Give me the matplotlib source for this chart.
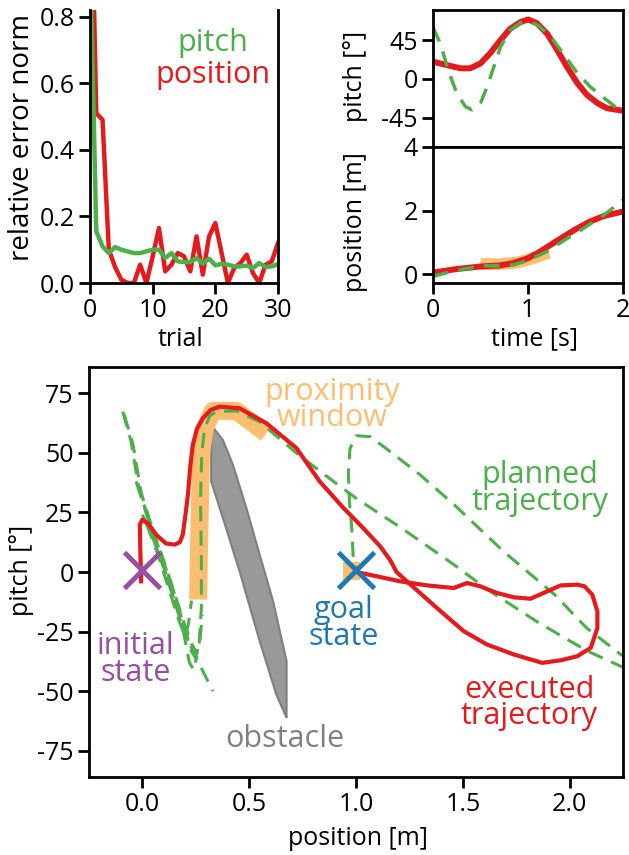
import matplotlib
matplotlib.use("Agg")
import matplotlib.pyplot as plt

plt.rcParams["font.family"] = ["Open Sans", "DejaVu Sans"]
plt.rcParams["axes.unicode_minus"] = False

RED = "#e41a1c"
GREEN = "#4daf4a"
ORANGE = "#fdbf6f"
PURPLE = "#984ea3"
BLUE = "#1f78b4"

# --- top left: relative error norm per trial
trials = list(range(31))
err_position = [1.40, 0.51, 0.49, 0.10, 0.048, 0.01, 0.0, 0.0, 0.055, 0.0, 0.08,
                0.165, 0.035, 0.055, 0.09, 0.08, 0.035, 0.14, 0.025, 0.14, 0.18,
                0.09, 0.0, 0.045, 0.06, 0.085, 0.03, 0.0, 0.055, 0.065, 0.12]
err_pitch = [1.0, 0.155, 0.11, 0.09, 0.108, 0.10, 0.095, 0.09, 0.09, 0.095, 0.10,
             0.10, 0.075, 0.09, 0.065, 0.063, 0.063, 0.075, 0.058, 0.073, 0.053,
             0.058, 0.055, 0.05, 0.05, 0.052, 0.045, 0.06, 0.048, 0.05, 0.057]

# --- top right: pitch and position over time
t_exec = [0, 0.147, 0.29, 0.39, 0.5, 0.6, 0.71, 0.81, 0.92, 1.0, 1.09, 1.2, 1.3,
          1.41, 1.52, 1.62, 1.73, 1.83, 2.0]
pitch_exec = [20, 16, 12.3, 12.3, 18, 29.6, 45, 58, 66, 69, 65, 52.7, 35, 14, -5,
              -18.5, -28, -34, -37]
t_plan = [0, 0.077, 0.165, 0.25, 0.34, 0.41, 0.5, 0.57, 0.64, 0.71, 0.81, 0.92,
          1.0, 1.11, 1.24, 1.38, 1.52, 1.66, 1.8, 2.0]
pitch_plan = [60, 41, 8.5, -16.5, -32, -36, -28, -9, 14, 37, 56.5, 65, 67, 62, 49,
              28, 6.5, -9.6, -22, -39.6]

t_pos_exec = [0, 0.25, 0.5, 0.7, 0.85, 1.0, 1.1, 1.2, 1.35, 1.5, 1.65, 1.8, 2.0]
pos_exec = [0.05, 0.16, 0.24, 0.27, 0.35, 0.5, 0.66, 0.85, 1.13, 1.41, 1.65, 1.83, 1.97]
t_pos_plan = [0, 0.25, 0.5, 0.7, 0.85, 1.0, 1.2, 1.4, 1.6, 1.8, 2.0]
pos_plan = [-0.07, 0.12, 0.26, 0.26, 0.29, 0.43, 0.71, 1.1, 1.47, 1.86, 2.33]
t_window = [0.5, 0.7, 0.9, 1.05, 1.22]
pos_window = [0.32, 0.31, 0.37, 0.5, 0.67]

# --- bottom: pitch vs position
exec_x = [-0.006, -0.01, -0.012, 0.0, 0.03, 0.064, 0.11, 0.15, 0.175, 0.189, 0.203,
          0.213, 0.225, 0.236, 0.255, 0.283, 0.32, 0.361, 0.455, 0.581, 0.721, 0.83,
          0.94, 1.034, 1.113, 1.16, 1.19, 1.238, 1.379, 1.504, 1.613, 1.739, 1.872,
          1.96, 2.036, 2.099, 2.13, 2.13, 2.106, 2.07, 2.036, 1.958, 1.895, 1.817,
          1.739, 1.66, 1.582, 1.52, 1.457, 1.332, 1.207, 1.097, 1.003]
exec_y = [-3.9, 10, 19.9, 22, 20, 15.7, 12, 11.5, 12.5, 15.7, 25, 32.4, 45, 53.4, 60,
          64.5, 68, 69.4, 68.7, 62.4, 52, 38, 27, 18.4, 10.8, 5, 0, -3.9, -15.1,
          -24.8, -30.4, -34.6, -38.1, -37, -35.3, -31.8, -23.5, -16.5, -9.5, -6,
          -5.3, -5.6, -8.1, -11.2, -10.6, -8.8, -6.0, -4.6, -6.7, -5.6, -3.9, -1.8, 0]

plan_x = [-0.085, -0.045, -0.005, 0.058, 0.15, 0.205, 0.228, 0.248, 0.266, 0.276,
          0.276, 0.272, 0.278, 0.291, 0.315, 0.346, 0.44, 0.549, 0.72, 0.88, 1.0,
          1.22, 1.46, 1.61, 1.85, 2.08, 2.25, 2.4, 2.45, 2.4, 2.24, 2.08, 1.93, 1.69,
          1.46, 1.3, 1.14, 1.066, 1.003, 0.972, 0.964, 0.969, 0.98, 0.987, 1.0]
plan_y = [66, 54, 33, 15, -9, -26, -33, -36, -30, -15, 5, 30, 50, 60, 65.5, 67.3,
          67.6, 63, 50, 39, 31, 18, 3, -7, -21, -33, -40, -48, -47, -43, -34.6,
          -23.5, -9.5, 8.7, 28.2, 40.8, 51.9, 56.8, 57.2, 51.9, 42, 29.6, 18.4, 6, 0.5]
plan2_x = [-0.092, -0.053, -0.014, 0.048, 0.14, 0.235, 0.33]
plan2_y = [67.3, 54.8, 33.8, 15.8, -9.4, -33, -50]
plan3_x = [-0.03, 0.02, 0.08, 0.14, 0.19, 0.23, 0.255, 0.27, 0.28]
plan3_y = [38, 25, 10, -6, -20, -30, -34, -28, -18]
plan4_x = [0.0, 0.05, 0.1, 0.15, 0.19, 0.22, 0.24, 0.255]
plan4_y = [24, 14, 2, -12, -24, -38, -41, -35]
plan5_x = [0.02, 0.07, 0.12, 0.17, 0.2, 0.215, 0.23]
plan5_y = [20, 8, -6, -20, -27, -22, -12]

window_x = [0.261, 0.265, 0.27, 0.275, 0.291, 0.33, 0.44, 0.58]
window_y = [-11.5, 10, 32, 50, 60.3, 67.6, 67.6, 58.2]
goal_window_x = [0.94, 1.02]
goal_window_y = [0.3, 0.3]

obstacle_x = [0.322, 0.377, 0.424, 0.487, 0.549, 0.612, 0.675, 0.675, 0.627, 0.549,
              0.455, 0.377, 0.322]
obstacle_y = [61.7, 55.4, 45, 26.8, 7.3, -12.3, -37.4, -61.2, -51.4, -29, 0.3, 22.6, 38]

initial_state = (0.0, 1.0)
goal_state = (1.0, 1.0)


def style(ax):
    for s in ax.spines.values():
        s.set_linewidth(2)
    ax.tick_params(width=2, length=8, labelsize=18, pad=3)


fig = plt.figure(figsize=(6.29, 8.55), dpi=100)

# top left
ax1 = fig.add_axes([0.1431, 0.6690, 0.2989, 0.3193])
style(ax1)
ax1.spines["top"].set_visible(False)
ax1.plot(trials, err_position, color=RED, lw=3.2)
ax1.plot(trials, err_pitch, color=GREEN, lw=3.2)
ax1.set_xlim(0, 30)
ax1.set_ylim(0, 0.82)
ax1.set_xticks([0, 10, 20, 30])
ax1.set_yticks([0.0, 0.2, 0.4, 0.6, 0.8])
ax1.set_yticklabels(["0.0", "0.2", "0.4", "0.6", "0.8"])
ax1.text(19.6, 0.72, "pitch", color=GREEN, fontsize=22, ha="center", va="center")
ax1.text(19.6, 0.626, "position", color=RED, fontsize=22, ha="center", va="center")
ax1.set_xlabel("trial", fontsize=18)
ax1.set_ylabel("relative error norm", fontsize=20)
ax1.xaxis.set_label_coords(0.481, -0.16)
ax1.yaxis.set_label_coords(-0.287, 0.533)

# top right, pitch
ax2 = fig.add_axes([0.6884, 0.8281, 0.3021, 0.1602])
style(ax2)
ax2.plot(t_exec, pitch_exec, color=RED, lw=4.3)
ax2.plot(t_plan, pitch_plan, color=GREEN, lw=2.5, ls=(0, (4.5, 3)))
ax2.set_xlim(0, 2)
ax2.set_ylim(-79, 80)
ax2.set_yticks([-45, 0, 45])
ax2.tick_params(axis="x", bottom=False, labelbottom=False)
ax2.set_ylabel("pitch [°]", fontsize=18)
ax2.yaxis.set_label_coords(-0.342, 0.515)

# top right, position
ax3 = fig.add_axes([0.6884, 0.6690, 0.3021, 0.1591])
style(ax3)
ax3.plot(t_window, pos_window, color=ORANGE, lw=8.5, solid_capstyle="butt")
ax3.plot(t_pos_exec, pos_exec, color=RED, lw=4.3)
ax3.plot(t_pos_plan, pos_plan, color=GREEN, lw=2.5, ls=(0, (4.5, 3)))
ax3.set_xlim(0, 2)
ax3.set_ylim(-0.28, 4)
ax3.set_yticks([0, 2, 4])
ax3.set_xticks([0, 1, 2])
ax3.set_xlabel("time [s]", fontsize=18)
ax3.set_ylabel("position [m]", fontsize=18)
ax3.xaxis.set_label_coords(0.534, -0.32)
ax3.yaxis.set_label_coords(-0.342, 0.449)

# bottom: phase plot
ax4 = fig.add_axes([0.1415, 0.0912, 0.8490, 0.4795])
style(ax4)
ax4.fill(obstacle_x, obstacle_y, facecolor="#999999", edgecolor="#7f7f7f", lw=1.5)
ax4.plot(window_x, window_y, color=ORANGE, lw=13, solid_capstyle="butt")
ax4.plot(goal_window_x, goal_window_y, color=ORANGE, lw=13, solid_capstyle="butt")
dash = (0, (5, 3))
for px, py in [(plan2_x, plan2_y), (plan3_x, plan3_y), (plan4_x, plan4_y),
               (plan5_x, plan5_y), (plan_x, plan_y)]:
    ax4.plot(px, py, color=GREEN, lw=2.2, ls=dash)
ax4.plot(exec_x, exec_y, color=RED, lw=3)
ax4.plot(*initial_state, marker="x", ms=26, mew=3.5, color=PURPLE)
ax4.plot(*goal_state, marker="x", ms=26, mew=3.5, color=BLUE)
ax4.set_xlim(-0.25, 2.25)
ax4.set_ylim(-86, 86)
ax4.set_xticks([0.0, 0.5, 1.0, 1.5, 2.0])
ax4.set_yticks([-75, -50, -25, 0, 25, 50, 75])
ax4.set_xlabel("position [m]", fontsize=18)
ax4.set_ylabel("pitch [°]", fontsize=18)
ax4.xaxis.set_label_coords(0.504, -0.12)
ax4.yaxis.set_label_coords(-0.103, 0.504)

kw = dict(fontsize=22, ha="center", va="center", linespacing=0.85)
ax4.text(0.89, 70, "proximity\nwindow", color=ORANGE, **kw)
ax4.text(1.86, 35, "planned\ntrajectory", color=GREEN, **kw)
ax4.text(1.81, -55, "executed\ntrajectory", color=RED, **kw)
ax4.text(-0.033, -36.6, "initial\nstate", color=PURPLE, **kw)
ax4.text(0.94, -21.5, "goal\nstate", color=BLUE, **kw)
ax4.text(0.667, -70, "obstacle", color="#808080", **kw)

fig.savefig("out.png", dpi=100)
